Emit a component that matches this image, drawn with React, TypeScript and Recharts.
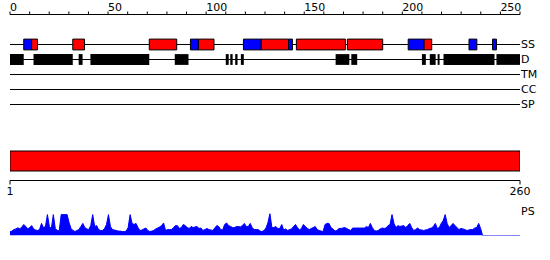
import React from "react";
import {
  ComposedChart,
  BarChart,
  AreaChart,
  Bar,
  Area,
  XAxis,
  YAxis,
  ReferenceArea,
  ReferenceLine,
} from "recharts";

const FONT = "DejaVu Sans";

// feature tracks, top to bottom
const tracks = ["SS", "D", "TM", "CC", "SP"];

// secondary structure (residue ranges)
const ssHelix = [
  [11, 14], [32, 38], [71, 85], [96, 104], [128, 142],
  [146, 171], [172, 190], [211, 215],
];
const ssStrand = [
  [7, 11], [92, 96], [119, 128], [142, 144], [203, 211],
  [234, 238], [246, 248],
];

// disordered regions
const disorder = [
  [0, 7], [12, 32], [35, 37], [41, 71], [84, 91],
  [110, 111.5], [112.3, 113.5], [114.8, 116], [117.7, 119.2],
  [166, 173], [174, 177], [210, 212], [214, 217], [218, 219],
  [221, 247], [248, 260],
];

const topTicks = [
  0, 10, 20, 30, 40, 50, 60, 70, 80, 90, 100, 110, 120, 130,
  140, 150, 160, 170, 180, 190, 200, 210, 220, 230, 240, 250, 260,
];
const topLabels = [0, 50, 100, 150, 200, 250];

const seqStart = 1;
const seqEnd = 260;
const seqTicks = [1, 260];

// PS score per residue (1..260)
const psScores = [
  0.17, 0.2, 0.27, 0.3, 0.35, 0.3, 0.39, 0.5, 0.41, 0.3,
  0.36, 0.45, 0.3, 0.25, 0.23, 0.27, 0.55, 0.36, 0.41, 0.95,
  0.41, 0.32, 0.95, 0.32, 0.23, 0.23, 0.95, 0.95, 0.95, 0.95,
  0.59, 0.32, 0.23, 0.18, 0.23, 0.27, 0.41, 0.55, 0.36, 0.3,
  0.27, 0.45, 0.95, 0.41, 0.45, 0.27, 0.23, 0.23, 0.32, 0.5,
  0.95, 0.41, 0.27, 0.25, 0.23, 0.2, 0.2, 0.18, 0.18, 0.2,
  0.36, 0.95, 0.55, 0.5, 0.55, 0.36, 0.23, 0.25, 0.3, 0.34,
  0.23, 0.18, 0.2, 0.23, 0.3, 0.34, 0.39, 0.45, 0.57, 0.23,
  0.27, 0.27, 0.27, 0.36, 0.45, 0.45, 0.32, 0.36, 0.5, 0.45,
  0.36, 0.32, 0.41, 0.36, 0.39, 0.41, 0.32, 0.34, 0.23, 0.27,
  0.32, 0.27, 0.25, 0.23, 0.34, 0.45, 0.41, 0.27, 0.25, 0.5,
  0.57, 0.45, 0.41, 0.36, 0.36, 0.41, 0.41, 0.39, 0.45, 0.55,
  0.41, 0.41, 0.55, 0.36, 0.27, 0.27, 0.27, 0.2, 0.18, 0.23,
  0.34, 0.59, 1.0, 0.36, 0.36, 0.41, 0.32, 0.32, 0.5, 0.25,
  0.3, 0.23, 0.27, 0.3, 0.41, 0.5, 0.36, 0.25, 0.32, 0.5,
  0.41, 0.32, 0.27, 0.32, 0.36, 0.41, 0.27, 0.23, 0.2, 0.18,
  0.5, 0.55, 0.55, 0.36, 0.3, 0.2, 0.23, 0.32, 0.32, 0.34,
  0.36, 0.32, 0.27, 0.23, 0.34, 0.34, 0.34, 0.34, 0.34, 0.34,
  0.34, 0.41, 0.36, 0.55, 0.36, 0.23, 0.2, 0.23, 0.3, 0.34,
  0.32, 0.34, 0.45, 0.5, 0.95, 0.55, 0.36, 0.45, 0.41, 0.43,
  0.45, 0.36, 0.45, 0.55, 0.36, 0.23, 0.27, 0.34, 0.27, 0.25,
  0.23, 0.25, 0.27, 0.32, 0.34, 0.41, 0.55, 0.32, 0.36, 0.55,
  0.68, 0.95, 0.55, 0.36, 0.45, 0.55, 0.45, 0.36, 0.27, 0.32,
  0.3, 0.27, 0.23, 0.25, 0.27, 0.27, 0.34, 0.36, 0.55, 0.32,
  0, 0, 0, 0, 0, 0, 0, 0, 0, 0,
  0, 0, 0, 0, 0, 0, 0, 0, 0, 0,
];

const psData = psScores.map((ps, i) => ({ pos: i + 1, ps }));
const seqData = [{ name: "seq", span: [seqStart, seqEnd] }];

function TopTick(props: any) {
  const { x, y, payload } = props;
  if (!topLabels.includes(payload.value)) return <g />;
  return (
    <text x={x} y={y + 1} textAnchor="start" fontSize={11} fontFamily={FONT} fill="#000">
      {payload.value}
    </text>
  );
}

function SeqTick(props: any) {
  const { x, y, payload } = props;
  return (
    <text x={x} y={y + 8} textAnchor="middle" fontSize={11} fontFamily={FONT} fill="#000">
      {payload.value}
    </text>
  );
}

const H = 0.36; // half box height in track units

export default function App() {
  const ss = tracks.indexOf("SS");
  const d = tracks.indexOf("D");
  return (
    <div
      style={{
        position: "absolute",
        left: 0,
        top: 0,
        width: 550,
        height: 260,
        background: "#fff",
        fontFamily: FONT,
      }}
    >
      {/* feature tracks */}
      <div style={{ position: "absolute", left: 0, top: 0 }}>
        <ComposedChart
          width={550}
          height={120}
          data={psData}
          margin={{ top: 0, right: 30, bottom: 0.5, left: 10 }}
        >
          <XAxis
            dataKey="pos"
            type="number"
            orientation="top"
            domain={[0, 260]}
            allowDataOverflow
            ticks={topTicks}
            interval={0}
            height={14.5}
            tickSize={3}
            stroke="#000"
            tick={<TopTick />}
          />
          <YAxis type="number" domain={[-2, 5]} reversed hide allowDataOverflow />
          {tracks.map((t, i) => (
            <ReferenceLine
              key={t}
              y={i}
              stroke="#000"
              zIndex={50}
              label={{
                value: t,
                position: "right",
                offset: 1,
                fill: "#000",
                fontSize: 11,
                fontFamily: FONT,
              }}
            />
          ))}
          {disorder.map(([a, b], k) => (
            <ReferenceArea
              key={"d" + k}
              x1={a}
              x2={b}
              y1={d - H}
              y2={d + H}
              fill="#000"
              fillOpacity={1}
              zIndex={150}
            />
          ))}
          {ssHelix.map(([a, b], k) => (
            <ReferenceArea
              key={"h" + k}
              x1={a}
              x2={b}
              y1={ss - H}
              y2={ss + H}
              fill="#ff0000"
              fillOpacity={1}
              stroke="#000"
              strokeWidth={1}
              zIndex={150}
            />
          ))}
          {ssStrand.map(([a, b], k) => (
            <ReferenceArea
              key={"e" + k}
              x1={a}
              x2={b}
              y1={ss - H}
              y2={ss + H}
              fill="#0000ff"
              fillOpacity={1}
              stroke="#000"
              strokeWidth={1}
              zIndex={150}
            />
          ))}
        </ComposedChart>
      </div>

      {/* sequence bar */}
      <div style={{ position: "absolute", left: 0, top: 140 }}>
        <BarChart
          width={550}
          height={65}
          layout="vertical"
          data={seqData}
          margin={{ top: 1, right: 30, bottom: 0, left: 10 }}
        >
          <XAxis
            type="number"
            domain={[seqStart, seqEnd]}
            allowDataOverflow
            ticks={seqTicks}
            interval={0}
            height={24.5}
            tickSize={4}
            stroke="#000"
            tick={<SeqTick />}
          />
          <YAxis type="category" dataKey="name" hide />
          <Bar
            dataKey="span"
            fill="#ff0000"
            stroke="#000"
            strokeWidth={1}
            barSize={20}
            isAnimationActive={false}
          />
        </BarChart>
      </div>

      {/* PS profile */}
      <div style={{ position: "absolute", left: 0, top: 200 }}>
        <AreaChart
          width={550}
          height={40}
          data={psData}
          margin={{ top: 13.5, right: 30, bottom: 4.5, left: 10 }}
        >
          <XAxis dataKey="pos" type="number" domain={[seqStart, seqEnd]} hide />
          <YAxis domain={[0, 1]} hide allowDataOverflow />
          <Area
            type="linear"
            dataKey="ps"
            fill="#0000ff"
            fillOpacity={1}
            stroke="#0000ff"
            strokeWidth={1}
            dot={false}
            activeDot={false}
            isAnimationActive={false}
          />
        </AreaChart>
      </div>

      <svg
        width={550}
        height={260}
        style={{ position: "absolute", left: 0, top: 0, pointerEvents: "none" }}
      >
        <text x={521} y={215} fontSize={11} fontFamily={FONT} fill="#000">
          PS
        </text>
      </svg>
    </div>
  );
}
